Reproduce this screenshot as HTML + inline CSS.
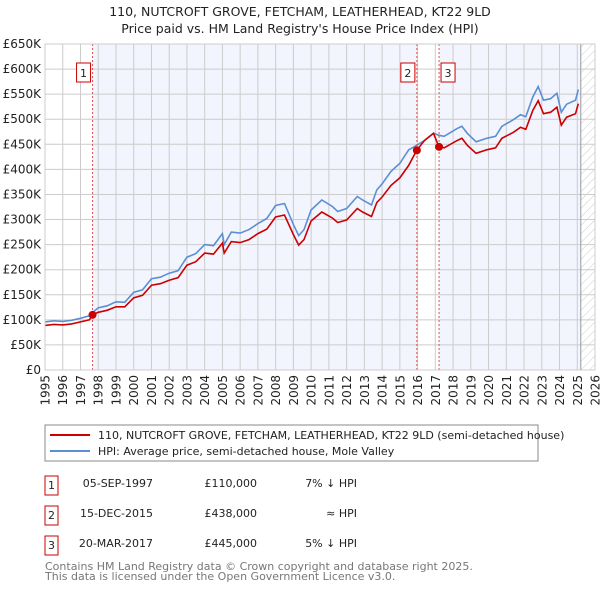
<!DOCTYPE html>
<html><head><meta charset="utf-8"><style>
body{margin:0;background:#fff;font-family:"Liberation Sans","DejaVu Sans",sans-serif;}
svg text{font-family:"DejaVu Sans","Liberation Sans",sans-serif;}
</style></head><body>
<svg id="c" width="600" height="590" xmlns="http://www.w3.org/2000/svg">
<defs><pattern id="hatch" width="6" height="6" patternUnits="userSpaceOnUse" patternTransform="rotate(45)"><line x1="0" y1="0" x2="0" y2="6" stroke="#ccc" stroke-width="1"/></pattern></defs>
<text x="300" y="16" text-anchor="middle" font-size="12.5" fill="#222">110, NUTCROFT GROVE, FETCHAM, LEATHERHEAD, KT22 9LD</text>
<text x="300" y="33" text-anchor="middle" font-size="12.5" fill="#222">Price paid vs. HM Land Registry's House Price Index (HPI)</text>
<g id="plot"></g>
<rect x="45" y="425" width="493" height="36" fill="#fff" stroke="#888"/>
<line x1="50" y1="435" x2="90" y2="435" stroke="#cc0000" stroke-width="2"/>
<text x="98" y="439" font-size="11" fill="#222">110, NUTCROFT GROVE, FETCHAM, LEATHERHEAD, KT22 9LD (semi-detached house)</text>
<line x1="50" y1="451" x2="90" y2="451" stroke="#5b8fd4" stroke-width="2"/>
<text x="98" y="455" font-size="11" fill="#222">HPI: Average price, semi-detached house, Mole Valley</text>
<g font-size="11" fill="#222">
<rect x="45" y="476" width="13" height="19" fill="#fff" stroke="#cc0000"/><text x="51.5" y="489" text-anchor="middle">1</text>
<text x="153" y="487" text-anchor="end">05-SEP-1997</text><text x="257" y="487" text-anchor="end">£110,000</text><text x="357" y="487" text-anchor="end">7% ↓ HPI</text>
<rect x="45" y="506" width="13" height="19" fill="#fff" stroke="#cc0000"/><text x="51.5" y="519" text-anchor="middle">2</text>
<text x="153" y="517" text-anchor="end">15-DEC-2015</text><text x="257" y="517" text-anchor="end">£438,000</text><text x="357" y="517" text-anchor="end">≈ HPI</text>
<rect x="45" y="536" width="13" height="19" fill="#fff" stroke="#cc0000"/><text x="51.5" y="549" text-anchor="middle">3</text>
<text x="153" y="547" text-anchor="end">20-MAR-2017</text><text x="257" y="547" text-anchor="end">£445,000</text><text x="357" y="547" text-anchor="end">5% ↓ HPI</text>
</g>
<text x="45" y="570" font-size="11" fill="#777">Contains HM Land Registry data © Crown copyright and database right 2025.</text>
<text x="45" y="580" font-size="11" fill="#777">This data is licensed under the Open Government Licence v3.0.</text>
</svg>
<script>
const dates=[1995.0,1995.5,1996.0,1996.5,1997.0,1997.5,1997.7,1998.0,1998.5,1999.0,1999.5,2000.0,2000.5,2001.0,2001.5,2002.0,2002.5,2003.0,2003.5,2004.0,2004.5,2005.0,2005.1,2005.5,2006.0,2006.5,2007.0,2007.5,2008.0,2008.5,2009.0,2009.3,2009.6,2010.0,2010.6,2011.2,2011.5,2012.0,2012.6,2012.9,2013.4,2013.7,2014.0,2014.5,2015.0,2015.5,2015.95,2016.4,2016.9,2017.2,2017.5,2018.2,2018.5,2018.8,2019.3,2019.9,2020.4,2020.75,2021.4,2021.8,2022.1,2022.5,2022.8,2023.1,2023.5,2023.85,2024.1,2024.4,2024.9,2025.06];
const hpiValues=[96,98,97,99,103,108,115,124,128,136,135,155,160,182,185,193,198,225,232,250,248,272,250,275,273,280,292,302,328,332,290,268,280,319,339,326,316,322,346,339,329,359,371,396,412,439,448,458,472,468,466,481,486,472,455,462,466,486,499,509,505,545,565,538,541,552,514,530,538,559];
const priceValues=[89,91,90,92,96,100,110,115,119,126,126,144,149,169,172,179,184,209,216,233,231,253,233,256,254,260,272,281,305,309,270,249,260,297,315,303,294,299,322,315,306,334,345,368,383,408,438,458,472,445,443,457,462,448,432,439,443,462,474,484,480,518,537,511,514,524,488,504,511,531];
const saleDates=[1997.68,2015.96,2017.21];
const salePrices=[110,438,445];
const saleLabels=["1","2","3"];
const yTicks=[0,50,100,150,200,250,300,350,400,450,500,550,600,650];
const yTickLabels=["£0","£50K","£100K","£150K","£200K","£250K","£300K","£350K","£400K","£450K","£500K","£550K","£600K","£650K"];
const xTicks=[1995,1996,1997,1998,1999,2000,2001,2002,2003,2004,2005,2006,2007,2008,2009,2010,2011,2012,2013,2014,2015,2016,2017,2018,2019,2020,2021,2022,2023,2024,2025,2026];
const dataEnd=2025.2;

const L=45,R=595,T=44,B=370;
const X=y=>L+(y-1995)/31*(R-L);
const Y=v=>B-v/650*(B-T);
const NS="http://www.w3.org/2000/svg";
const g=document.getElementById('plot');
function mk(t,a){const e=document.createElementNS(NS,t);for(const k in a)e.setAttribute(k,a[k]);g.appendChild(e);return e;}
let e;
e=mk('rect',{x:L,y:T,width:R-L,height:B-T,fill:'#fff'});


e=mk('rect',{x:X(saleDates[0]),y:T,width:X(saleDates[1])-X(saleDates[0]),height:B-T,fill:'#f2f5fd'});


e=mk('rect',{x:X(saleDates[2]),y:T,width:X(dataEnd)-X(saleDates[2]),height:B-T,fill:'#f2f5fd'});


e=mk('rect',{x:X(dataEnd),y:T,width:R-X(dataEnd),height:B-T,fill:'url(#hatch)'});


yTicks.forEach((v,i)=>{
  e=mk('line',{x1:L,x2:R,y1:Y(v),y2:Y(v),stroke:'#ccc','stroke-width':1});
  
  
  e=mk('text',{x:L-4,y:Y(v)+4,'text-anchor':'end','font-size':12,fill:'#222'});
  e.textContent=yTickLabels[i];
  
  
});
xTicks.forEach(yr=>{
  e=mk('line',{x1:X(yr),x2:X(yr),y1:T,y2:B,stroke:'#ccc','stroke-width':1});
  
  
  const tx=X(yr)+4.5, ty=B+5;
  e=mk('text',{x:tx,y:ty,'text-anchor':'end','font-size':12,fill:'#222',transform:`rotate(-90 ${tx} ${ty})`});
  e.textContent=yr;
  
  
});
e=mk('line',{x1:X(dataEnd),x2:X(dataEnd),y1:T,y2:B,stroke:'#999','stroke-width':1});


function path(vals){return dates.map((d,i)=>(i?'L':'M')+X(d).toFixed(1)+','+Y(vals[i]).toFixed(1)).join('');}
e=mk('path',{d:path(hpiValues),fill:'none',stroke:'#5b8fd4','stroke-width':1.6});


e=mk('path',{d:path(priceValues),fill:'none',stroke:'#cc0000','stroke-width':1.6});


saleDates.forEach((d,i)=>{
  e=mk('line',{x1:X(d),x2:X(d),y1:T,y2:B,stroke:'#e05050','stroke-width':1,'stroke-dasharray':'2,2'});
  
  
  e=mk('circle',{cx:X(d),cy:Y(salePrices[i]),r:4,fill:'#cc0000'});
  
  
  const bx=X(d)-(i===2?-2:16);
  e=mk('rect',{x:bx,y:63,width:14,height:19,fill:'#fff',stroke:'#cc0000'});
  
  
  e=mk('text',{x:bx+7,y:77,'text-anchor':'middle','font-size':11,fill:'#222'});
  e.textContent=saleLabels[i];
  
  
});
e=mk('rect',{x:L,y:T,width:R-L,height:B-T,fill:'none',stroke:'#ccc'});


</script>
</body></html>
